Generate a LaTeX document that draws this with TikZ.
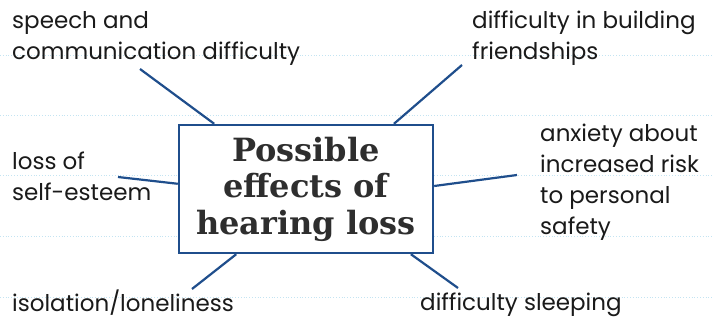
\documentclass[tikz,border=0pt]{standalone}
\usepackage{fontspec}
\setmainfont{Poppins}
\newfontfamily\titlefont{DejaVu Serif}
\usetikzlibrary{calc}
\definecolor{inkblue}{HTML}{1F4E8C}
\definecolor{ruleblue}{HTML}{C4E4F2}
\definecolor{titlegrey}{HTML}{2E2E2E}
\definecolor{labelink}{HTML}{1A1A1A}
\begin{document}
\begin{tikzpicture}[x=1pt,y=-1pt,
  ruling/.style={ruleblue,dotted,line width=0.8pt},
  effect/.style={anchor=north west,inner sep=0pt,align=left,text=labelink,
    font=\fontsize{23}{31}\selectfont},
  lastline/.style={effect,text depth=2pt},
  link/.style={inkblue,line width=2.2pt},
  centrebox/.style={draw=inkblue,line width=2.4pt,fill=white,minimum width=254pt,
    minimum height=128pt,inner sep=0pt,align=center,text=titlegrey,
    font=\titlefont\bfseries\fontsize{32}{36.5}\selectfont}]
\useasboundingbox (0,0) rectangle (712,321);
\fill[white] (0,0) rectangle (712,321);
% notebook ruling
\foreach \y in {55,115,175,236,297}
  \draw[ruling] (0,\y) -- (712,\y);
% central box
\node[centrebox] (box) at (306,189) {Possible\\effects of\\hearing loss};
% surrounding effects
\node[effect] (speech) at (12,11) {speech and\\communication difficulty};
\node[effect] (friends) at (472,11) {difficulty in building\\friendships};
\node[effect] (esteem) at (12,152) {loss of\\self-esteem};
\node[effect] (anxiety) at (540,124) {anxiety about\\increased risk\\to personal\\safety};
\node[lastline] (isolation) at (12,290) {isolation/loneliness};
\node[lastline] (sleep) at (420,293) {difficulty sleeping};
% free ends of the connectors
\coordinate (cSpeech) at (140,69);
\coordinate (cFriends) at (462,65);
\coordinate (cEsteem) at (118,177);
\coordinate (cAnxiety) at (517,175);
\coordinate (cIsolation) at (192,289);
\coordinate (cSleep) at (458,288);
% connectors
\draw[link] (cSpeech) -- ($(box.north west)!0.142!(box.north east)$);
\draw[link] (cFriends) -- ($(box.north west)!0.843!(box.north east)$);
\draw[link] (cEsteem) -- ($(box.north west)!0.46!(box.south west)$);
\draw[link] (cAnxiety) -- ($(box.north east)!0.477!(box.south east)$);
\draw[link] (cIsolation) -- ($(box.south west)!0.228!(box.south east)$);
\draw[link] (cSleep) -- ($(box.south west)!0.909!(box.south east)$);
\end{tikzpicture}
\end{document}
